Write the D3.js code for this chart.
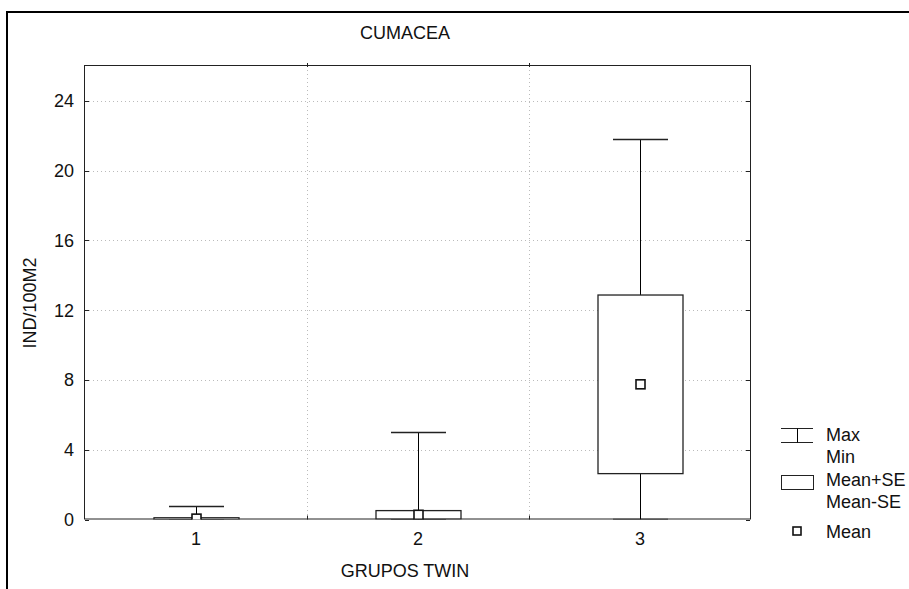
<!DOCTYPE html>
<html><head><meta charset="utf-8">
<script src="https://cdn.jsdelivr.net/npm/d3@7"></script>
<style>
body{margin:0;background:#fff;}
text{font-family:"Liberation Sans",Arial,sans-serif;font-size:18px;fill:#111;}
</style></head>
<body><svg id="c" width="909" height="589"></svg>
<script>
const categories = ['1','2','3'];
const maxVals  = [0.72, 4.97, 21.78];
const minVals  = [0, 0, 0];
const meanVals = [0.05, 0.27, 7.75];
const seVals   = [0.05, 0.24, 5.12];
const yTicks = [0,4,8,12,16,20,24];
const title = 'CUMACEA', xTitle = 'GRUPOS TWIN', yTitle = 'IND/100M2';
const legendItems = ['Max','Min','Mean+SE','Mean-SE','Mean'];

const svg = d3.select('#c');
const L=85, R=751, T=66, B=519.5;
const x = d3.scaleBand().domain(categories).range([L,R]).padding(0);
const y = d3.scaleLinear().domain([0,26]).range([B,T]);

// outer border
svg.append('rect').attr('x',7).attr('y',12).attr('width',1000).attr('height',1000)
  .attr('fill','none').attr('stroke','#000').attr('stroke-width',2);

// grid
const g = svg.append('g');
yTicks.filter(d=>d>0).forEach(t=>{
  g.append('line').attr('x1',L).attr('x2',R).attr('y1',Math.round(y(t))+0.5).attr('y2',Math.round(y(t))+0.5)
   .attr('stroke','#bbb').attr('stroke-dasharray','1,3');
});
const bounds = categories.slice(1).map(c=>Math.round(x(c))+0.5);
bounds.forEach(bx=>{
  g.append('line').attr('x1',bx).attr('x2',bx).attr('y1',T).attr('y2',B)
   .attr('stroke','#bbb').attr('stroke-dasharray','1,3');
});

// frame
svg.append('rect').attr('x',L-0.5).attr('y',T-0.5).attr('width',R-L).attr('height',B-T)
  .attr('fill','none').attr('stroke','#222').attr('stroke-width',1);

// ticks
yTicks.forEach(t=>{
  const yy=Math.round(y(t))+0.5;
  svg.append('line').attr('x1',L).attr('x2',L+4).attr('y1',yy).attr('y2',yy).attr('stroke','#222');
  svg.append('line').attr('x1',R-5).attr('x2',R-1).attr('y1',yy).attr('y2',yy).attr('stroke','#222');
});
bounds.forEach(bx=>{
  svg.append('line').attr('x1',bx).attr('x2',bx).attr('y1',B-4).attr('y2',B).attr('stroke','#222');
  svg.append('line').attr('x1',bx).attr('x2',bx).attr('y1',T-3).attr('y2',T+1).attr('stroke','#222');
});

// y tick labels
svg.append('g').selectAll('text').data(yTicks).join('text')
  .attr('x',74).attr('y',d=>y(d)).attr('dy','0.36em').attr('text-anchor','end').text(d=>d);
// x tick labels
svg.append('g').selectAll('text').data(categories).join('text')
  .attr('x',d=>x(d)+x.bandwidth()/2).attr('y',539).attr('dy','0.36em').attr('text-anchor','middle').text(d=>d);

// titles
svg.append('text').attr('x',405).attr('y',33).attr('dy','0.36em').attr('text-anchor','middle').text(title);
svg.append('text').attr('x',405).attr('y',571).attr('dy','0.36em').attr('text-anchor','middle').text(xTitle);
svg.append('text').attr('transform','translate(30,303) rotate(-90)').attr('dy','0.36em').attr('text-anchor','middle').text(yTitle);

// clip
svg.append('clipPath').attr('id','pc').append('rect').attr('x',L).attr('y',T).attr('width',R-L).attr('height',B-T);

const boxW = 85, capW = 55, mk = 9;
const data = categories.map((c,i)=>({c, max:maxVals[i], min:minVals[i], mean:meanVals[i], hi:meanVals[i]+seVals[i], lo:Math.max(0,meanVals[i]-seVals[i])}));
const bg = svg.append('g').attr('clip-path','url(#pc)');
data.forEach(d=>{
  const cx = Math.round(x(d.c)+x.bandwidth()/2)+0.5;
  // whiskers
  bg.append('line').attr('x1',cx).attr('x2',cx).attr('y1',y(d.max)).attr('y2',y(d.hi)).attr('stroke','#000');
  bg.append('line').attr('x1',cx).attr('x2',cx).attr('y1',y(d.lo)).attr('y2',y(d.min)).attr('stroke','#000');
  [d.max,d.min].forEach(v=>{
    const yy = Math.round(y(v))-0.5;
    bg.append('line').attr('x1',cx-capW/2).attr('x2',cx+capW/2).attr('y1',yy).attr('y2',yy).attr('stroke','#222').attr('stroke-width',1.5);
  });
  // box
  bg.append('rect').attr('x',cx-boxW/2).attr('y',y(d.hi)).attr('width',boxW).attr('height',Math.max(1,y(d.lo)-y(d.hi)))
    .attr('fill','#fff').attr('stroke','#222').attr('stroke-width',1.3);
  // mean marker
  bg.append('rect').attr('x',cx-mk/2).attr('y',y(d.mean)-mk/2).attr('width',mk).attr('height',mk)
    .attr('fill','#fff').attr('stroke','#111').attr('stroke-width',1.6);
});

// legend
const lx0=781, lx1=813, lxc=797.5, tx=826;
svg.append('line').attr('x1',lx0).attr('x2',lx1).attr('y1',428.5).attr('y2',428.5).attr('stroke','#222');
svg.append('line').attr('x1',lx0).attr('x2',lx1).attr('y1',442.5).attr('y2',442.5).attr('stroke','#222');
svg.append('line').attr('x1',lxc).attr('x2',lxc).attr('y1',428.5).attr('y2',442.5).attr('stroke','#000');
svg.append('rect').attr('x',lx0+0.5).attr('y',475.5).attr('width',lx1-lx0).attr('height',14).attr('fill','#fff').attr('stroke','#222');
svg.append('rect').attr('x',793).attr('y',527).attr('width',8).attr('height',8).attr('fill','#fff').attr('stroke','#111').attr('stroke-width',1.6);
const ly=[435,457,480,502,532];
svg.append('g').selectAll('text').data(legendItems).join('text')
  .attr('x',tx).attr('y',(d,i)=>ly[i]).attr('dy','0.36em').text(d=>d);
</script></body></html>
